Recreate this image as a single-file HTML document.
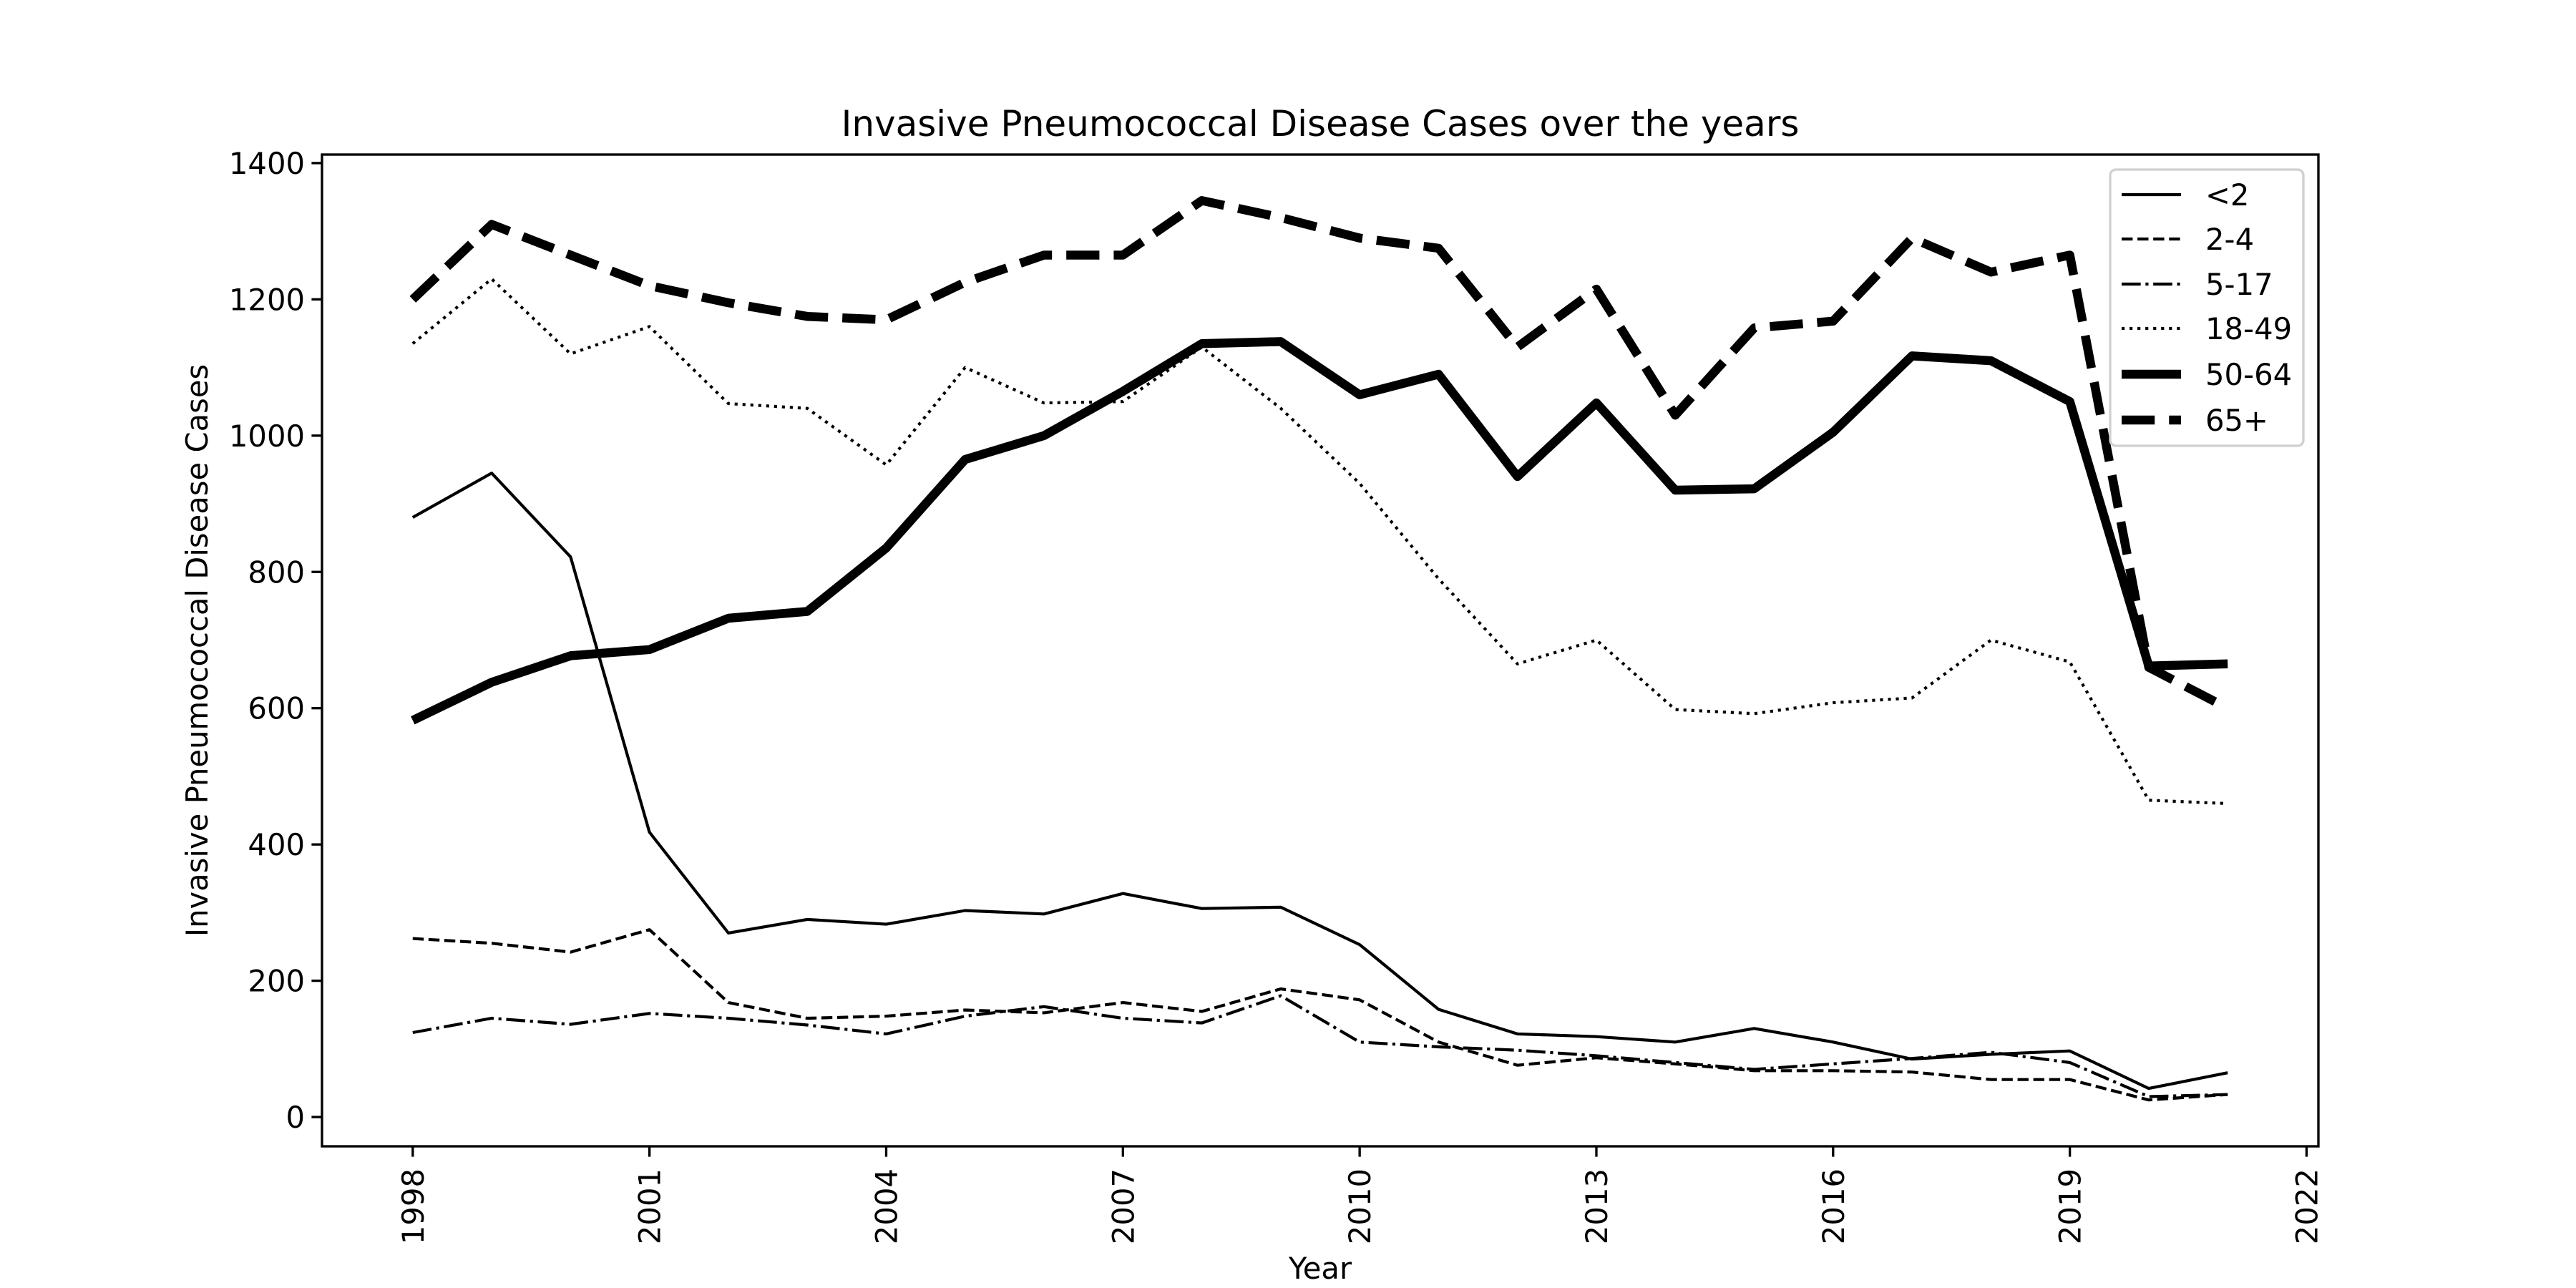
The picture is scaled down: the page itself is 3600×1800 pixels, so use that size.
<!DOCTYPE html>
<html><head><meta charset="utf-8"><style>
html,body{margin:0;padding:0;background:#fff}
svg{display:block}
text{font-family:"DejaVu Sans","Liberation Sans",sans-serif;fill:#000}
</style></head><body>
<svg id="chart" width="3600" height="1800" viewBox="0 0 3600 1800" xmlns="http://www.w3.org/2000/svg">
<rect width="3600" height="1800" fill="#fff"/>
<g id="plot"></g>
</svg>
<script>
const years=[1998,1999,2000,2001,2002,2003,2004,2005,2006,2007,2008,2009,2010,2011,2012,2013,2014,2015,2016,2017,2018,2019,2020,2021];
const seriesLt2=[880,945,822,418,270,290,283,303,298,328,306,308,253,158,122,118,110,130,110,85,92,97,42,65];
const series2to4=[262,255,242,275,168,145,148,157,153,168,155,188,172,110,76,87,78,68,68,66,55,55,25,33];
const series5to17=[124,145,136,152,145,135,122,148,162,145,138,178,110,103,98,90,80,70,78,86,95,80,30,33];
const series18to49=[1135,1230,1120,1160,1047,1040,957,1100,1048,1050,1130,1040,930,790,665,700,598,592,608,615,700,668,465,460];
const series50to64=[582,638,677,686,732,742,835,965,1000,1065,1135,1138,1060,1090,940,1048,920,922,1005,1117,1110,1050,662,665];
const series65p=[1200,1310,1265,1220,1195,1175,1170,1225,1265,1265,1345,1320,1290,1275,1130,1215,1030,1158,1168,1290,1240,1265,660,600];
const seriesLabels=["<2","2-4","5-17","18-49","50-64","65+"];
const xTicks=[1998,2001,2004,2007,2010,2013,2016,2019,2022];
const yTicks=[0,200,400,600,800,1000,1200,1400];

const L=450,R=3240,T=216,B=1602;
const xMin=1996.85,xMax=2022.15,yMin=-43,yMax=1412.5;
const sx=v=>L+(v-xMin)/(xMax-xMin)*(R-L);
const sy=v=>B-(v-yMin)/(yMax-yMin)*(B-T);
const NS="http://www.w3.org/2000/svg";
const g=document.getElementById('plot');
function mk(tag,attrs,parent){const e=document.createElementNS(NS,tag);for(const k in attrs)e.setAttribute(k,attrs[k]);(parent||g).appendChild(e);return e;}
const p=4.1667;
const styles=[
 {w:p,d:null},
 {w:p,d:[3.7*p,1.6*p]},
 {w:p,d:[6.4*p,1.6*p,1*p,1.6*p]},
 {w:p,d:[1*p,1.65*p]},
 {w:3*p,d:null},
 {w:3*p,d:[3.7*3*p,1.6*3*p]}
];
const all=[seriesLt2,series2to4,series5to17,series18to49,series50to64,series65p];
const names=['series-under-2','series-2-4','series-5-17','series-18-49','series-50-64','series-65-plus'];
all.forEach((s,i)=>{
 const d=s.map((v,j)=>(j?'L':'M')+sx(years[j]).toFixed(1)+' '+sy(v).toFixed(1)).join(' ');
 const path=mk('path',{d:d,fill:'none',stroke:'#000','stroke-width':styles[i].w,'stroke-linejoin':'round','stroke-linecap':'butt'});
 if(styles[i].d)path.setAttribute('stroke-dasharray',styles[i].d.join(' '));
 
 
});
const frame=mk('rect',{x:L,y:T,width:R-L,height:B-T,fill:'none',stroke:'#000','stroke-width':3.33});


yTicks.forEach(v=>{
 const y=sy(v);
 const t=mk('line',{x1:L-14.6,x2:L,y1:y,y2:y,stroke:'#000','stroke-width':3.33});
 
 
 const tx=mk('text',{x:L-24,y:y+15,'text-anchor':'end','font-size':41.7});
 tx.textContent=v;
 
 
});
xTicks.forEach(v=>{
 const x=sx(v);
 const t=mk('line',{x1:x,x2:x,y1:B,y2:B+14.6,stroke:'#000','stroke-width':3.33});
 
 
 const tx=mk('text',{x:0,y:0,'text-anchor':'end','font-size':41.7,transform:`translate(${x+15},${B+31}) rotate(-90)`});
 tx.textContent=v;
 
 
});
const title=mk('text',{x:(L+R)/2,y:190,'text-anchor':'middle','font-size':50});
title.textContent='Invasive Pneumococcal Disease Cases over the years';


const xl=mk('text',{x:(L+R)/2,y:1787,'text-anchor':'middle','font-size':41.7});
xl.textContent='Year';


const yl=mk('text',{x:0,y:0,'text-anchor':'middle','font-size':41.7,transform:`translate(290,${(T+B)/2}) rotate(-90)`});
yl.textContent='Invasive Pneumococcal Disease Cases';


const lg=mk('g',{});


const lb=mk('rect',{x:2949,y:237,width:270,height:386,rx:8,fill:'rgba(255,255,255,0.8)',stroke:'#d0d0d0','stroke-width':3.33},lg);


const ly=[272,334,397,459,523,587];
seriesLabels.forEach((lab,i)=>{
 const e=mk('g',{},lg);
 
 
 const ln=mk('line',{x1:2965,x2:3048,y1:ly[i],y2:ly[i],stroke:'#000','stroke-width':styles[i].w},e);
 if(styles[i].d)ln.setAttribute('stroke-dasharray',styles[i].d.join(' '));
 const t=mk('text',{x:3082,y:ly[i]+15,'font-size':41.7},e);
 t.textContent=lab;
});
</script>
</body></html>
